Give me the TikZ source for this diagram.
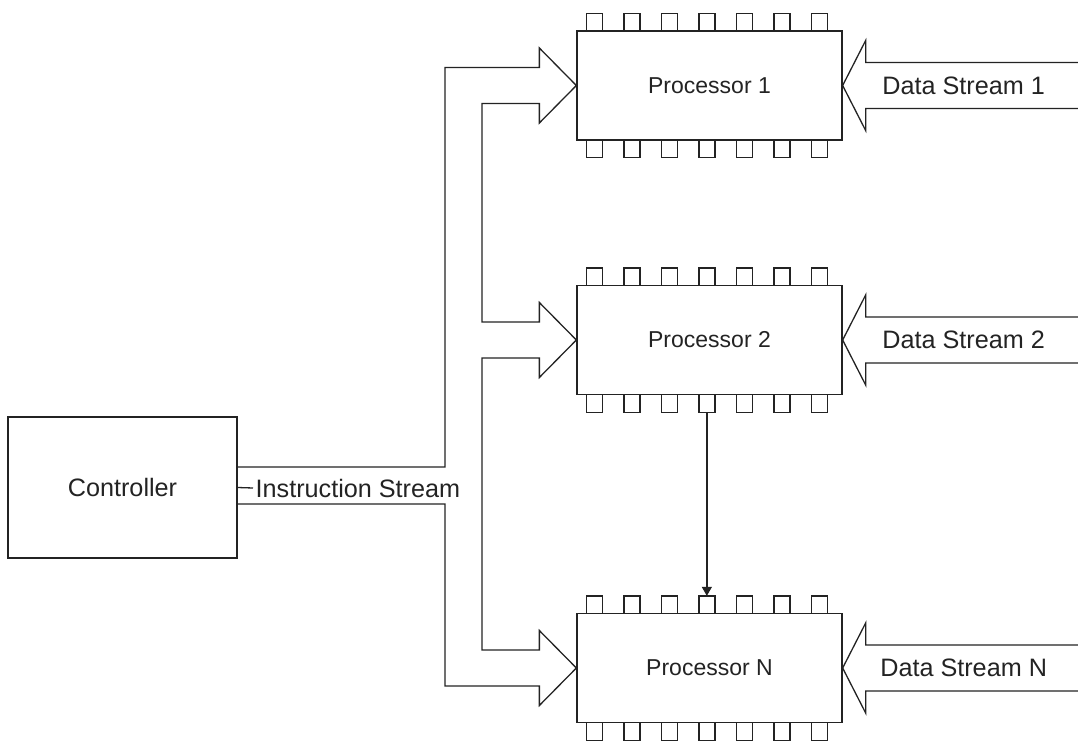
\documentclass[tikz,border=0pt]{standalone}
\usepackage{fontspec}
\setmainfont{Liberation Sans}
\usetikzlibrary{calc,arrows.meta}
\definecolor{ink}{RGB}{35,35,35}
\begin{document}
\begin{tikzpicture}[x=1pt,y=-1pt,line width=1.3pt,color=ink,
  txt/.style={font=\fontsize{25.2}{30}\selectfont},
  ptxt/.style={font=\fontsize{23}{28}\selectfont},
  proc/.style={draw,rectangle,inner sep=0pt,ptxt,minimum width=265pt,minimum height=109pt},
  ctlbox/.style={draw,rectangle,inner sep=0pt,txt,minimum width=229pt,minimum height=141pt},
  lbl/.style={inner sep=0pt,txt},
  stream/.style={draw,line join=miter},
  pin/.style={draw,line join=miter},
  link/.style={draw,-{Triangle[length=9pt,width=10pt]}}]
\useasboundingbox (0,0) rectangle (1078,741);

\node[ctlbox] (ctl) at (122.5,487.5) {Controller};
\node[proc] (p1) at (709.5,85.5) {Processor 1};
\node[proc] (p2) at (709.5,340) {Processor 2};
\node[proc] (pn) at (709.5,668) {Processor N};

% pins
\foreach \p in {p1,p2,pn}{
  \foreach \k in {0,...,6}{
    \draw[pin] ($(\p.north west)+(10+37.5*\k,0)$) -- ++(0,-17) -- ++(16,0) -- ++(0,17);
    \draw[pin] ($(\p.south west)+(10+37.5*\k,0)$) -- ++(0,17) -- ++(16,0) -- ++(0,-17);
  }
}

% instruction stream bus
\foreach \p in {p1,p2,pn}{
  \coordinate (\p-st) at ($(\p.west)+(-37,-18)$);
  \coordinate (\p-ht) at ($(\p.west)+(-37,-37.5)$);
  \coordinate (\p-hb) at ($(\p.west)+(-37,37.5)$);
  \coordinate (\p-sb) at ($(\p.west)+(-37,18)$);
}
\coordinate (bo) at (445,0);
\coordinate (bi) at (482,0);
\coordinate (cu) at ($(ctl.east)+(0,-20.5)$);
\coordinate (cl) at ($(ctl.east)+(0,16.5)$);
\draw[stream] (cu) -- (bo |- cu) -- (bo |- p1-st) -- (p1-st) -- (p1-ht) -- (p1.west)
  -- (p1-hb) -- (p1-sb) -- (bi |- p1-sb) -- (bi |- p2-st) -- (p2-st) -- (p2-ht)
  -- (p2.west) -- (p2-hb) -- (p2-sb) -- (bi |- p2-sb) -- (bi |- pn-st) -- (pn-st)
  -- (pn-ht) -- (pn.west) -- (pn-hb) -- (pn-sb) -- (bo |- pn-sb) -- (bo |- cl) -- (cl);

\node[lbl,anchor=west] (is) at (255,488) {Instruction Stream};
\draw (ctl.east) -- ($(is.west)+(-2,0)$);

% data streams
\foreach \p/\t in {p1/1,p2/2,pn/N}{
  \draw[stream] ($(\p.east)+(237,-23)$) -- ($(\p.east)+(23,-23)$) -- ($(\p.east)+(23,-45)$)
    -- (\p.east) -- ($(\p.east)+(23,45)$) -- ($(\p.east)+(23,23)$) -- ($(\p.east)+(237,23)$);
  \node[lbl] (\p-ds) at ($(\p.east)+(121,0)$) {Data Stream \t};
}

% link from processor 2 to processor N
\coordinate (lk1) at ($(p2.south west)+(10+37.5*3+8,17)$);
\coordinate (lk2) at ($(pn.north west)+(10+37.5*3+8,-17)$);
\draw[link] (lk1) -- (lk2);
\end{tikzpicture}
\end{document}
